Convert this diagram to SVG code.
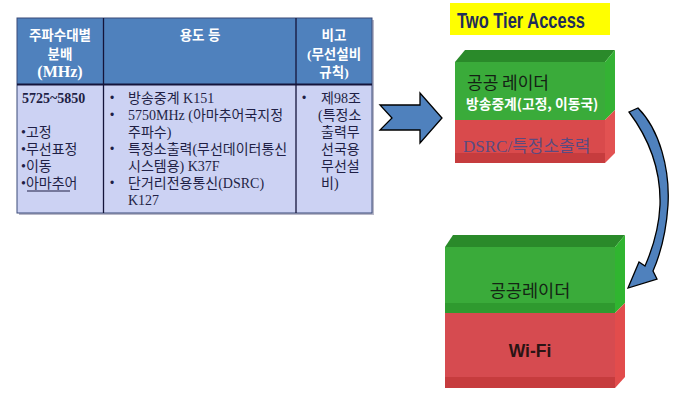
<svg xmlns="http://www.w3.org/2000/svg" width="676" height="407" viewBox="0 0 676 407">
<style>
.hd{font-family:"Liberation Serif","Noto Sans CJK KR",serif;font-weight:bold;fill:#ffffff;text-anchor:middle}
.bd{font-family:"Liberation Serif","Noto Sans CJK KR",serif;fill:#1f1f45;font-size:14px}
.blt{font-family:"Liberation Sans",sans-serif;fill:#1f1f45;font-size:12px}
.grid{stroke:#14143a;stroke-width:1.3;fill:none}
.arrow{fill:#4f81bd;stroke:#000;stroke-width:1.3;stroke-linejoin:miter}
.kr{font-family:"Noto Sans CJK KR","Liberation Sans",sans-serif}
</style>
<rect width="676" height="407" fill="#ffffff"/>

<g id="table">
  <rect x="19" y="20" width="355" height="195" fill="#b8b8c8"/>
  <rect x="17" y="18" width="355" height="66" fill="#4f81bd"/>
  <rect x="17" y="84" width="355" height="129" fill="#ccd2f3"/>
  <rect x="17" y="18" width="355" height="195" fill="none" stroke="#3a4a78" stroke-width="1"/>
  <line x1="17" y1="84.5" x2="372" y2="84.5" stroke="#14143a" stroke-width="2.2"/>
  <line class="grid" x1="103.5" y1="18" x2="103.5" y2="213"/>
  <line class="grid" x1="296" y1="18" x2="296" y2="213"/>

  <text class="hd" x="60" y="40" font-size="13.5">주파수대별</text>
  <text class="hd" x="60" y="59" font-size="13.5">분배</text>
  <text class="hd" x="60" y="77" font-size="16">(MHz)</text>
  <text class="hd" x="200" y="40" font-size="13.5">용도 등</text>
  <text class="hd" x="334" y="40" font-size="13.5">비고</text>
  <text class="hd" x="334" y="59" font-size="13.5">(무선설비</text>
  <text class="hd" x="334" y="77" font-size="13.5">규칙)</text>

  <text class="bd" x="22" y="103" font-size="16" font-weight="bold">5725~5850</text>
  <text class="bd" x="21" y="137">•고정</text>
  <text class="bd" x="21" y="154">•무선표정</text>
  <text class="bd" x="21" y="171">•이동</text>
  <text class="bd" x="21" y="188">•아마추어</text>
  <line x1="27" y1="191" x2="70" y2="191" stroke="#1f1f45" stroke-width="1"/>

  <text class="blt" x="110" y="102">•</text>
  <text class="blt" x="110" y="119">•</text>
  <text class="blt" x="110" y="153">•</text>
  <text class="blt" x="110" y="187">•</text>
  <text class="bd" x="128" y="103">방송중계 K151</text>
  <text class="bd" x="128" y="120">5750MHz (아마추어국지정</text>
  <text class="bd" x="128" y="137">주파수)</text>
  <text class="bd" x="128" y="154">특정소출력(무선데이터통신</text>
  <text class="bd" x="128" y="171">시스템용) K37F</text>
  <text class="bd" x="128" y="188">단거리전용통신(DSRC)</text>
  <text class="bd" x="128" y="205">K127</text>

  <text class="blt" x="302" y="102">•</text>
  <text class="bd" x="321" y="103">제98조</text>
  <text class="bd" x="318" y="120">(특정소</text>
  <text class="bd" x="321" y="137">출력무</text>
  <text class="bd" x="321" y="154">선국용</text>
  <text class="bd" x="321" y="171">무선설</text>
  <text class="bd" x="321" y="188">비)</text>
</g>

<g id="title">
  <rect x="450" y="3" width="160" height="32" fill="#ffff00"/>
  <text x="457" y="28" font-family="Liberation Sans, sans-serif" font-weight="bold" font-size="22" fill="#1f2d5a" textLength="128" lengthAdjust="spacingAndGlyphs">Two Tier Access</text>
</g>

<g id="box-top">
  <polygon points="455,62 465,50 615,50 605,62" fill="#2a8a2a"/>
  <polygon points="605,62 615,50 615,110 605,120" fill="#34b234"/>
  <polygon points="605,120 615,110 615,153 605,163" fill="#e25252"/>
  <rect x="455" y="62" width="150" height="58" fill="#3aab3a"/>
  <rect x="455" y="120" width="150" height="43" fill="#d94a4c"/>
  <rect x="455" y="153" width="150" height="10" fill="#c63c3e"/>
  <text x="467" y="89" class="kr" font-size="17" fill="#142014">공공 레이더</text>
  <text x="466" y="109" class="kr" font-size="13.8" font-weight="bold" fill="#ffffff">방송중계(고정, 이동국)</text>
  <text x="463" y="152" font-family="Liberation Serif, Noto Sans CJK KR, serif" font-size="17" fill="#5b4a80">DSRC/특정소출력</text>
</g>

<g id="box-bottom">
  <polygon points="445,247 453,235 625,235 615,247" fill="#2a8a2a"/>
  <polygon points="615,247 625,235 625,303 615,313" fill="#30b530"/>
  <polygon points="615,313 625,303 625,377 615,388" fill="#e24c4c"/>
  <rect x="445" y="247" width="170" height="66" fill="#3aab3a"/>
  <rect x="445" y="303" width="170" height="10" fill="#2f9a2f"/>
  <rect x="445" y="313" width="170" height="75" fill="#d64b50"/>
  <rect x="445" y="377" width="170" height="11" fill="#c63c3e"/>
  <text x="530" y="297" class="kr" font-size="17.5" fill="#142414" text-anchor="middle">공공레이더</text>
  <text x="530" y="357" font-family="Liberation Sans, sans-serif" font-weight="bold" font-size="17.5" fill="#2a1414" text-anchor="middle">Wi-Fi</text>
</g>

<g id="connectors">
  <polygon class="arrow" points="380,105 420,105 420,93 442,118 420,143 420,130 380,130 392,118"/>
  <path class="arrow" d="M 629,112 L 638,108 C 660,130 670,170 668,205 C 666,235 660,255 653,271 L 657,279 L 628,288 L 639,262 L 645,266 C 652,250 659,228 660,205 C 661,170 650,140 629,112 Z"/>
</g>
</svg>
